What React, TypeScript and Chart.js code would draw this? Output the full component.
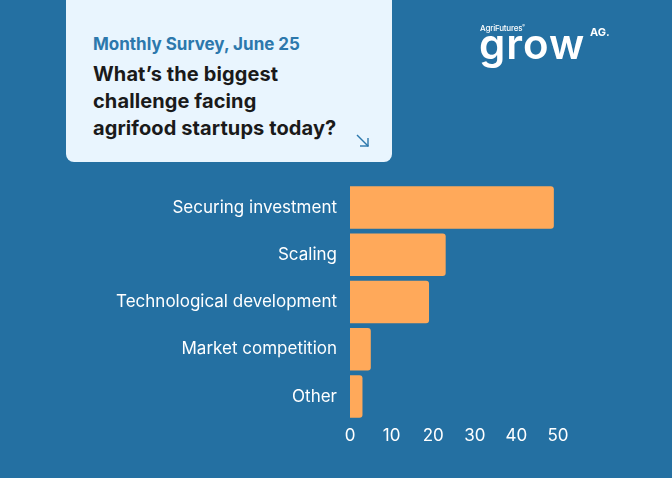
import React, { useEffect, useRef } from "react";
import { Chart, registerables } from "chart.js";

Chart.register(...registerables);

const categories = [
  "Securing investment",
  "Scaling",
  "Technological development",
  "Market competition",
  "Other",
];
const responses = [49, 23, 19, 5, 3];
const xTicks = [0, 10, 20, 30, 40, 50];

const BG = "#2470A2";
const BAR = "#FFA95A";
const FONT = "Inter, 'Open Sans', sans-serif";

export default function App() {
  const ref = useRef<HTMLCanvasElement | null>(null);

  useEffect(() => {
    if (!ref.current) return;
    const chart = new Chart(ref.current, {
      type: "bar",
      data: {
        labels: categories,
        datasets: [
          {
            data: responses,
            backgroundColor: BAR,
            borderWidth: 0,
            borderRadius: 3,
            borderSkipped: "start",
            categoryPercentage: 0.9,
            barPercentage: 1,
          },
        ],
      },
      options: {
        indexAxis: "y",
        animation: false,
        responsive: false,
        maintainAspectRatio: false,
        layout: { padding: { top: 184, right: 114, bottom: 0, left: 0 } },
        plugins: { legend: { display: false }, tooltip: { enabled: false } },
        scales: {
          x: {
            min: 0,
            max: 50,
            afterBuildTicks: (s: any) => {
              s.ticks = xTicks.map((v) => ({ value: v }));
            },
            grid: { display: false, drawTicks: false },
            border: { display: false },
            ticks: {
              color: "#FFFFFF",
              font: { family: FONT, size: 17 },
              padding: 6,
            },
            afterFit: (s: any) => {
              s.height = 58;
            },
          },
          y: {
            grid: { display: false, drawTicks: false },
            border: { display: false },
            ticks: {
              color: "#FFFFFF",
              font: { family: FONT, size: 17 },
              padding: 13,
            },
            afterFit: (s: any) => {
              s.width = 350;
            },
          },
        },
      },
    });
    return () => chart.destroy();
  }, []);

  return (
    <div
      style={{
        position: "fixed",
        left: 0,
        top: 0,
        width: 672,
        height: 478,
        background: BG,
        overflow: "hidden",
        fontFamily: FONT,
      }}
    >
      <canvas ref={ref} width={672} height={478} style={{ position: "absolute", left: 0, top: 0 }} />
      <div
        style={{
          position: "absolute",
          left: 66,
          top: -10,
          width: 326,
          height: 172,
          background: "#E9F5FE",
          borderRadius: 8,
        }}
      >
        <div
          style={{
            position: "absolute",
            left: 27,
            top: 44,
            fontSize: 17,
            fontWeight: 700,
            color: "#2C78AC",
            whiteSpace: "nowrap",
          }}
        >
          Monthly Survey, June 25
        </div>
        <div
          style={{
            position: "absolute",
            left: 27,
            top: 71,
            fontSize: 20,
            lineHeight: "27px",
            fontWeight: 700,
            color: "#1A1A1A",
            letterSpacing: 0.1,
            whiteSpace: "nowrap",
          }}
        >
          What’s the biggest
          <br />
          challenge facing
          <br />
          agrifood startups today?
        </div>
        <svg
          style={{ position: "absolute", left: 290, top: 144 }}
          width={14}
          height={14}
          viewBox="0 0 14 14"
        >
          <line x1="1" y1="1" x2="12" y2="12" stroke="#2C78AC" strokeWidth="1.4" />
          <line x1="12" y1="4" x2="12" y2="12.5" stroke="#2C78AC" strokeWidth="1.4" />
          <line x1="4" y1="12" x2="12.5" y2="12" stroke="#2C78AC" strokeWidth="1.4" />
        </svg>
      </div>
      <div
        style={{
          position: "absolute",
          left: 480,
          top: 23,
          fontSize: 8,
          color: "#FFFFFF",
          fontWeight: 500,
          letterSpacing: -0.2,
          whiteSpace: "nowrap",
        }}
      >
        AgriFutures<sup style={{ fontSize: 4 }}>®</sup>
      </div>
      <div
        style={{
          position: "absolute",
          left: 479,
          top: 18,
          fontSize: 42,
          fontWeight: 600,
          color: "#FFFFFF",
          letterSpacing: 1,
          whiteSpace: "nowrap",
        }}
      >
        grow
      </div>
      <div
        style={{
          position: "absolute",
          left: 590,
          top: 25,
          fontSize: 11,
          fontWeight: 700,
          color: "#FFFFFF",
          whiteSpace: "nowrap",
        }}
      >
        AG.
      </div>
    </div>
  );
}
